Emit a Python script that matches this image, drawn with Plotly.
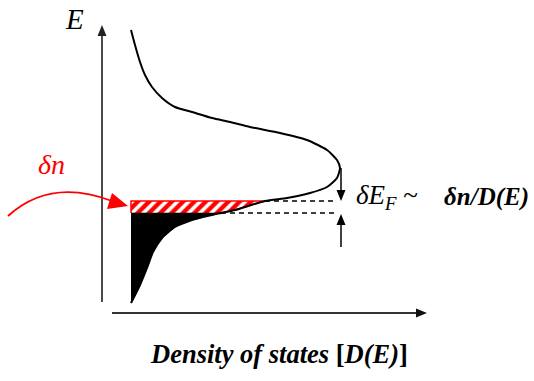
import plotly.graph_objects as go

# ---- data (arbitrary units: D = density of states, E = energy) ----
dos_D = [29, 38, 45, 51, 60, 73, 90, 110, 119, 133, 163, 185, 208, 225, 235, 238,
         235, 225, 205, 178, 148, 128, 110, 90, 73, 60, 50, 43, 38, 33, 29]
dos_E = [10, 28, 45, 61, 75, 86, 93, 98, 100, 103, 112, 115, 120, 126, 135, 145,
         153, 163, 173, 180, 186, 191, 195, 201, 206, 215, 226, 238, 251, 268, 283]
E_F = 100          # Fermi level before doping
E_F_shift = 112    # Fermi level after adding δn
band_edge_D = 29
dash_end_D = 233
arrow_D = 239
arrow_top_E = 145
arrow_bottom_E = 66

# pixel -> data helpers (for decorations only)
X0, Y0 = 102, 313
def px(x):
    return x - X0
def py(y):
    return Y0 - y

fig = go.Figure()

# hatched band (δn)
i_lo = dos_E.index(E_F)
i_hi = dos_E.index(E_F_shift)
hD = [band_edge_D, band_edge_D] + dos_D[i_lo:i_hi + 1][::-1]
hE = [E_F, E_F_shift] + dos_E[i_lo:i_hi + 1][::-1]
fig.add_trace(go.Scatter(x=hD, y=hE, mode="lines", fill="toself",
                         line=dict(color="red", width=1.5),
                         fillcolor="white",
                         fillpattern=dict(shape="/", fgcolor="red", bgcolor="white",
                                          fgopacity=1, size=8, solidity=0.55),
                         hoverinfo="skip"))

# filled occupied states
fD = dos_D[:i_lo + 1] + [band_edge_D]
fE = dos_E[:i_lo + 1] + [E_F]
fig.add_trace(go.Scatter(x=fD, y=fE, mode="lines", fill="toself",
                         line=dict(color="black", width=0.5), fillcolor="black",
                         hoverinfo="skip"))

# DOS curve
fig.add_trace(go.Scatter(x=dos_D, y=dos_E, mode="lines",
                         line=dict(color="black", width=2, shape="spline", smoothing=0.6),
                         hoverinfo="skip"))

# dashed Fermi lines
for i in (i_lo, i_hi):
    fig.add_trace(go.Scatter(x=[dos_D[i], dash_end_D], y=[dos_E[i], dos_E[i]], mode="lines",
                             line=dict(color="black", width=1.3, dash="5px,4px"),
                             hoverinfo="skip"))

shapes = []
# axes
shapes.append(dict(type="line", x0=0, y0=py(302), x1=0, y1=py(33),
                   line=dict(color="#4a4a4a", width=2)))
shapes.append(dict(type="path", path=f"M {px(102)},{py(25)} L {px(97.5)},{py(36)} L {px(106.5)},{py(36)} Z",
                   fillcolor="#222", line=dict(color="#222", width=0)))
shapes.append(dict(type="line", x0=px(112), y0=0, x1=px(418), y1=0,
                   line=dict(color="#333", width=2)))
shapes.append(dict(type="path", path=f"M {px(427)},{py(313)} L {px(416)},{py(308.5)} L {px(416)},{py(317.5)} Z",
                   fillcolor="#111", line=dict(color="#111", width=0)))
# δE_F arrows
shapes.append(dict(type="line", x0=arrow_D, y0=arrow_top_E, x1=arrow_D, y1=E_F_shift + 8,
                   line=dict(color="black", width=1.5)))
shapes.append(dict(type="path",
                   path=f"M {arrow_D},{E_F_shift} L {arrow_D-4.5},{E_F_shift+11} L {arrow_D+4.5},{E_F_shift+11} Z",
                   fillcolor="black", line=dict(width=0)))
shapes.append(dict(type="line", x0=arrow_D, y0=arrow_bottom_E, x1=arrow_D, y1=E_F - 9,
                   line=dict(color="black", width=1.5)))
shapes.append(dict(type="path",
                   path=f"M {arrow_D},{E_F-1} L {arrow_D-4.5},{E_F-12} L {arrow_D+4.5},{E_F-12} Z",
                   fillcolor="black", line=dict(width=0)))
# red curved arrow
shapes.append(dict(type="path",
                   path=f"M {px(8)},{py(216)} C {px(30)},{py(196)} {px(62)},{py(182)} {px(112)},{py(201)}",
                   line=dict(color="red", width=1.8)))
shapes.append(dict(type="path",
                   path=f"M {px(128)},{py(206)} L {px(112)},{py(193)} L {px(107)},{py(209)} Z",
                   fillcolor="red", line=dict(color="red", width=0)))

serif = "Liberation Serif, Times New Roman, serif"
ann = [
    dict(x=px(74), y=py(19), text="<i>E</i>", font=dict(size=29, family=serif, color="black"),
         xanchor="center", yanchor="middle"),
    dict(x=px(51), y=py(164), text="<i>δn</i>", font=dict(size=28, family=serif, color="red"),
         xanchor="center", yanchor="middle"),
    dict(x=px(354), y=py(197), text="<i>δE<sub>F</sub></i> ~", font=dict(size=27, family=serif, color="black"),
         xanchor="left", yanchor="middle"),
    dict(x=px(442), y=py(197), text="<b><i>δn/D(E)</i></b>", font=dict(size=25, family=serif, color="black"),
         xanchor="left", yanchor="middle"),
    dict(x=px(279), y=py(354), text="<b><i>Density of states </i>[<i>D(E)</i>]</b>",
         font=dict(size=26.5, family=serif, color="black"), xanchor="center", yanchor="middle"),
]
for a in ann:
    a.update(xref="x", yref="y", showarrow=False)

fig.update_layout(
    width=534, height=381, margin=dict(l=0, r=0, t=0, b=0),
    paper_bgcolor="white", plot_bgcolor="white", showlegend=False,
    xaxis=dict(range=[px(0), px(534)], visible=False, fixedrange=True),
    yaxis=dict(range=[py(381), py(0)], visible=False, fixedrange=True),
    shapes=shapes, annotations=ann,
)
fig.write_html("out.html", config={"displayModeBar": False, "staticPlot": True},
               post_script="document.body.style.margin='0';document.body.style.overflow='hidden';")
